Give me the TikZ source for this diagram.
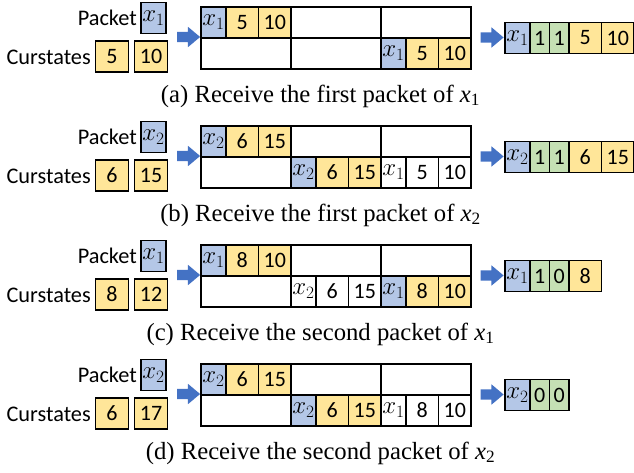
\documentclass[tikz,border=0pt]{standalone}
\usepackage{fontspec}
\setmainfont{Carlito}
\newfontfamily\capfont{Liberation Serif}
\usetikzlibrary{positioning,shapes.arrows}
\definecolor{pkblue}{HTML}{B4C7E7}
\definecolor{styellow}{HTML}{FFE699}
\definecolor{flgreen}{HTML}{C5E0B4}
\definecolor{arrblue}{HTML}{4472C4}
\tikzset{
  cell/.style={draw, line width=1.1pt, inner sep=0pt, outer sep=0pt, minimum height=31pt, font=\fontsize{22}{25}\selectfont},
  pk/.style={cell, fill=pkblue, minimum width=25pt, font=\fontsize{26}{28}\selectfont},
  st/.style={cell, fill=styellow, minimum width=32.5pt},
  fl/.style={cell, fill=flgreen, minimum width=19.5pt},
  wpk/.style={pk, fill=white},
  wst/.style={st, fill=white},
  slot/.style={cell, minimum width=90pt},
  blk/.style={single arrow, fill=arrblue, inner xsep=0pt, inner ysep=5pt, minimum height=23pt, single arrow head extend=5pt, single arrow tip angle=80},
}
% one row of cells, chained left to right from a start point
\newcommand\cellrow[3]{%
  \coordinate (#10) at (#2);
  \foreach \t/\s [count=\i, remember=\i as \j (initially 0)] in {#3}
    \node[\s, right=0pt of #1\j] (#1\i) {\t};}

\begin{document}
\begin{tikzpicture}[x=1pt, y=-1pt,
  lbl/.style={font=\fontsize{22.3}{25}\selectfont, inner sep=0pt},
  capt/.style={font=\capfont\fontsize{24.7}{28}\selectfont, inner sep=0pt, anchor=base},
]
  \useasboundingbox (0,0) rectangle (634,472);
  \foreach \dy/\p/\pkt/\va/\vb/\txt in {
      0/a/1/5/10/{(a) Receive the first packet of \textit{x}\textsubscript{1}},
      119/b/2/6/15/{(b) Receive the first packet of \textit{x}\textsubscript{2}},
      238/c/1/8/12/{(c) Receive the second packet of \textit{x}\textsubscript{1}},
      357/d/2/6/17/{(d) Receive the second packet of \textit{x}\textsubscript{2}}}{
    \node[lbl, anchor=base east] (\p lp) at (137,\dy+25.5) {Packet};
    \node[pk] (\p pk) at (153.5,\dy+18) {$x_\pkt$};
    \node[lbl, anchor=base east] (\p lc) at (91,\dy+64.5) {Curstates};
    \node[st] (\p s1) at (112,\dy+56.5) {\va};
    \node[st, right=6.5pt of \p s1] (\p s2) {\vb};
    \node[blk] (\p in) at (185.5,\dy+37) {};
    \foreach \r in {1,2}
      \foreach \c in {1,2,3}
        \node[slot] (\p g\r\c) at (156+90*\c,\dy-8.5+31*\r) {};
    \node[blk] (\p out) at (489,\dy+37.5) {};
    \coordinate (\p o) at (505,\dy+38);
    \node[capt] (\p cap) at (320.5,\dy+102) {\txt};
  }
  % (a) first packet of x1
  \cellrow{aT}{ag11.west}{$x_1$/pk,5/st,10/st}
  \cellrow{aR}{ag23.west}{$x_1$/pk,5/st,10/st}
  \cellrow{aO}{ao}{$x_1$/pk,1/fl,1/fl,5/st,10/st}
  % (b) first packet of x2
  \cellrow{bT}{bg11.west}{$x_2$/pk,6/st,15/st}
  \cellrow{bM}{bg22.west}{$x_2$/pk,6/st,15/st}
  \cellrow{bR}{bg23.west}{$x_1$/wpk,5/wst,10/wst}
  \cellrow{bO}{bo}{$x_2$/pk,1/fl,1/fl,6/st,15/st}
  % (c) second packet of x1
  \cellrow{cT}{cg11.west}{$x_1$/pk,8/st,10/st}
  \cellrow{cM}{cg22.west}{$x_2$/wpk,6/wst,15/wst}
  \cellrow{cR}{cg23.west}{$x_1$/pk,8/st,10/st}
  \cellrow{cO}{co}{$x_1$/pk,1/fl,0/fl,8/st}
  % (d) second packet of x2
  \cellrow{dT}{dg11.west}{$x_2$/pk,6/st,15/st}
  \cellrow{dM}{dg22.west}{$x_2$/pk,6/st,15/st}
  \cellrow{dR}{dg23.west}{$x_1$/wpk,8/wst,10/wst}
  \cellrow{dO}{do}{$x_2$/pk,0/fl,0/fl}
\end{tikzpicture}
\end{document}
